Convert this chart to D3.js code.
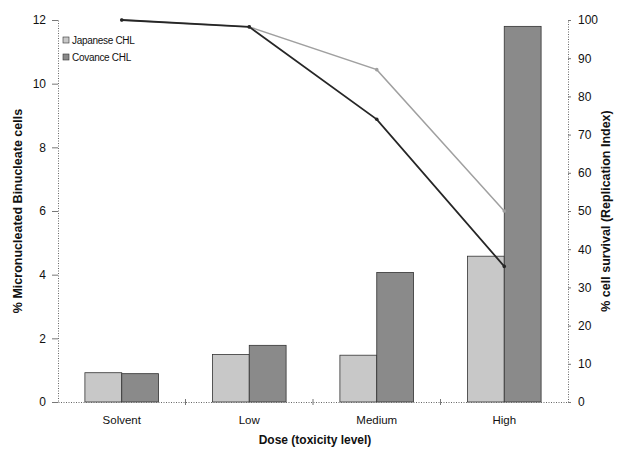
<!DOCTYPE html>
<html><head><meta charset="utf-8">
<script src="https://cdn.jsdelivr.net/npm/d3@7"></script>
<style>body{margin:0;background:#fff}svg{display:block;font-family:"Liberation Sans",Arial,sans-serif}</style>
</head><body><svg id="c" width="621" height="452"></svg>
<script>
const categories = ["Solvent","Low","Medium","High"];
const seriesNames = ["Japanese CHL","Covance CHL"];
const micronucleiJapanese = [0.92, 1.49, 1.47, 4.58];
const micronucleiCovance = [0.89, 1.78, 4.07, 11.8];
const survivalJapanese = [100, 98.2, 87, 50];
const survivalCovance = [100, 98.2, 74, 35.5];
const leftTicks = [0,2,4,6,8,10,12];
const rightTicks = [0,10,20,30,40,50,60,70,80,90,100];

const svg = d3.select("#c");
const L = 58, R = 568, T = 20, B = 402;
const x = d3.scaleBand().domain(categories).range([L, R]);
const xs = d3.scaleBand().domain(seriesNames).range([0, x.bandwidth()]).paddingOuter(0.73).paddingInner(0);
const yL = d3.scaleLinear().domain([0,12]).range([B, T]);
const yR = d3.scaleLinear().domain([0,100]).range([B, T]);
const fills = ["#c8c8c8", "#8a8a8a"];
const lineCols = ["#a0a0a0", "#262626"];

// bars
const barData = categories.map((c,i)=>[micronucleiJapanese[i], micronucleiCovance[i]]);
categories.forEach((c,i)=>{
  barData[i].forEach((v,j)=>{
    svg.append("rect")
      .attr("x", x(c)+xs(seriesNames[j]))
      .attr("y", yL(v))
      .attr("width", xs.bandwidth())
      .attr("height", B - yL(v))
      .attr("fill", fills[j]).attr("stroke","#333").attr("stroke-width",0.8);
  });
});

// axes
const axL = d3.axisLeft(yL).tickValues(leftTicks).tickSize(6).tickPadding(6);
const gL = svg.append("g").attr("transform",`translate(${L},0)`).call(axL);
const axR = d3.axisRight(yR).tickValues(rightTicks).tickSize(3).tickPadding(7);
const gR = svg.append("g").attr("transform",`translate(${R},0)`).call(axR);
const axB = d3.axisBottom(x).tickSize(0).tickPadding(14);
const gB = svg.append("g").attr("transform",`translate(0,${B})`).call(axB);
[gL,gR,gB].forEach(g=>{
  g.select(".domain").attr("stroke","#666").attr("stroke-dasharray","1,1.5").attr("stroke-width",1);
  g.selectAll(".tick line").attr("stroke","#777");
  g.selectAll("text").attr("font-size",12).attr("fill","#111").attr("font-family","Liberation Sans, Arial, sans-serif");
});
gB.selectAll("text").attr("font-size",11.5);
// category boundary ticks
svg.append("g").selectAll("line").data(categories.slice(1)).join("line")
  .attr("x1",d=>x(d)).attr("x2",d=>x(d)).attr("y1",B-3).attr("y2",B+3).attr("stroke","#777");

// lines
const surv = [survivalJapanese, survivalCovance];
surv.forEach((s,j)=>{
  const line = d3.line().x((d,i)=>x(categories[i])+x.bandwidth()/2).y(d=>yR(d));
  svg.append("path").datum(s).attr("d",line).attr("fill","none")
    .attr("stroke",lineCols[j]).attr("stroke-width",j?1.8:1.5);
  svg.append("g").selectAll("circle").data(s).join("circle")
    .attr("cx",(d,i)=>x(categories[i])+x.bandwidth()/2).attr("cy",d=>yR(d)).attr("r",1.8)
    .attr("fill",lineCols[j]);
});

// legend
const lg = svg.append("g").attr("transform","translate(63,41)");
seriesNames.forEach((n,j)=>{
  lg.append("rect").attr("x",0).attr("y",j*17-4).attr("width",6).attr("height",6)
    .attr("fill",fills[j]).attr("stroke","#333").attr("stroke-width",0.6);
  lg.append("text").attr("x",9).attr("y",j*17+2.5).attr("font-size",10).attr("fill","#111")
    .attr("letter-spacing","-0.3").text(n);
});

// titles
svg.append("text").attr("transform",`translate(22,${(T+B)/2}) rotate(-90)`).attr("text-anchor","middle")
  .attr("font-size",12.5).attr("font-weight","bold").attr("fill","#111").text("% Micronucleated Binucleate cells");
svg.append("text").attr("transform",`translate(610,${(T+B)/2}) rotate(-90)`).attr("text-anchor","middle")
  .attr("font-size",12.5).attr("font-weight","bold").attr("fill","#111").text("% cell survival (Replication Index)");
svg.append("text").attr("x",(L+R)/2+2).attr("y",444).attr("text-anchor","middle")
  .attr("font-size",12).attr("font-weight","bold").attr("fill","#111").text("Dose (toxicity level)");
</script></body></html>
